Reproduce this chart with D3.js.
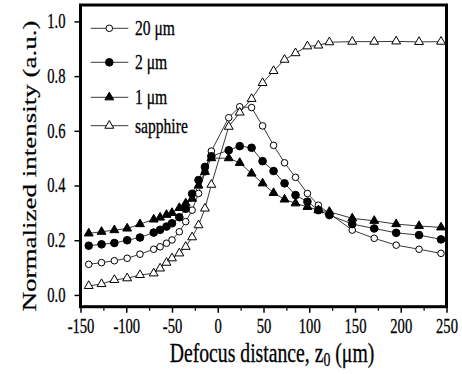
<!DOCTYPE html>
<html>
<head>
<meta charset="utf-8">
<script src="https://cdn.jsdelivr.net/npm/d3@7"></script>
<style>
  body { margin: 0; background: #fff; }
  svg text { font-family: "Liberation Serif", "Times New Roman", serif; fill: #000; stroke: #000; stroke-width: 0.3; }
</style>
</head>
<body>
<div id="chart"></div>
<script>
// DATA
const defocus = [-141, -127, -113, -99, -85, -70, -63, -56, -50, -42, -35, -28, -21, -14, -7,
                 12, 24, 37, 49, 61, 73, 85, 98, 110, 122, 147, 171, 195, 220, 244];

const um20 = [0.112, 0.118, 0.125, 0.134, 0.149, 0.167, 0.176, 0.189, 0.201, 0.231, 0.268, 0.310, 0.371, 0.450, 0.526,
              0.648, 0.688, 0.685, 0.618, 0.547, 0.483, 0.430, 0.371, 0.328, 0.298, 0.237, 0.207, 0.182, 0.167, 0.152];
const um2 = [0.180, 0.185, 0.190, 0.200, 0.210, 0.228, 0.238, 0.250, 0.262, 0.284, 0.315, 0.370, 0.420, 0.468, 0.507,
             0.529, 0.544, 0.538, 0.489, 0.453, 0.408, 0.365, 0.341, 0.310, 0.292, 0.259, 0.243, 0.227, 0.219, 0.203];
const um1 = [0.225, 0.231, 0.237, 0.243, 0.259, 0.276, 0.283, 0.293, 0.300, 0.318, 0.335, 0.352, 0.400, 0.450, 0.500,
             0.500, 0.483, 0.444, 0.408, 0.373, 0.349, 0.335, 0.322, 0.310, 0.304, 0.280, 0.271, 0.259, 0.252, 0.247];
const sapphire = [0.033, 0.040, 0.055, 0.061, 0.073, 0.079, 0.097, 0.118, 0.134, 0.152, 0.176, 0.211, 0.255, 0.316, 0.403,
                  0.615, 0.667, 0.717, 0.775, 0.819, 0.860, 0.884, 0.909, 0.912, 0.924, 0.926, 0.926, 0.927, 0.925, 0.926];

const seriesNames = ["20 \u03bcm", "2 \u03bcm", "1 \u03bcm", "sapphire"];
const xTicks = [-150, -100, -50, 0, 50, 100, 150, 200, 250];
const xMinorTicks = [-125, -75, -25, 25, 75, 125, 175, 225];
const yTicks = [0.0, 0.2, 0.4, 0.6, 0.8, 1.0];

// SETUP
const width = 462, height = 374;
const squeeze = 0.73;   // the original figure's text is narrowed horizontally

const svg = d3.select("#chart").append("svg")
    .attr("width", width)
    .attr("height", height);

const frame = {left: 80.5, right: 446.5, top: 5, bottom: 306.7};

const x = d3.scaleLinear().domain([-150, 250]).range([frame.left, frame.right]);
const y = d3.scaleLinear().domain([-0.043, 1.06]).range([frame.bottom, frame.top]);

// AXES
const xAxis = svg.append("g")
    .attr("transform", `translate(0,${frame.bottom})`)
    .call(d3.axisBottom(x).tickValues(xTicks).tickSize(6).tickPadding(6).tickFormat(d => String(d)));
xAxis.select(".domain").remove();
xAxis.selectAll("line").attr("stroke", "#000").attr("stroke-width", 1.5);
xAxis.selectAll("text")
    .attr("font-size", 20)
    .attr("font-family", "Liberation Serif, serif")
    .attr("transform", `scale(${squeeze},1)`);

const xMinor = svg.append("g")
    .attr("transform", `translate(0,${frame.bottom})`)
    .call(d3.axisBottom(x).tickValues(xMinorTicks).tickSize(4).tickFormat(""));
xMinor.select(".domain").remove();
xMinor.selectAll("line").attr("stroke", "#000").attr("stroke-width", 1.2);

const yAxis = svg.append("g")
    .attr("transform", `translate(${frame.left},0)`)
    .call(d3.axisLeft(y).tickValues(yTicks).tickSize(6).tickFormat(d3.format(".1f")));
yAxis.select(".domain").remove();
yAxis.selectAll("line").attr("stroke", "#000").attr("stroke-width", 1.5);
yAxis.selectAll("text")
    .attr("font-size", 20)
    .attr("font-family", "Liberation Serif, serif")
    .attr("x", 0)
    .attr("transform", `translate(-15,0) scale(${squeeze},1)`);

// frame
svg.append("rect")
    .attr("x", frame.left).attr("y", frame.top)
    .attr("width", frame.right - frame.left)
    .attr("height", frame.bottom - frame.top)
    .attr("fill", "none")
    .attr("stroke", "#000")
    .attr("stroke-width", 3);

// TITLES
const xTitle = svg.append("text")
    .attr("text-anchor", "middle")
    .attr("font-size", 27)
    .attr("transform", `translate(272,362) scale(${squeeze},1)`);
xTitle.append("tspan").text("Defocus distance, z");
xTitle.append("tspan").attr("font-size", 19).attr("dy", 4).text("0");
xTitle.append("tspan").attr("dy", -4).text(" (\u03bcm)");

svg.append("text")
    .attr("text-anchor", "middle")
    .attr("font-size", 27)
    .attr("transform", `translate(36,166) scale(${squeeze},1) rotate(-90)`)
    .text("Normalized intensity (a.u.)");

// SERIES
const symOpenCircle = d3.symbol().type(d3.symbolCircle).size(34);
const symCircle = d3.symbol().type(d3.symbolCircle).size(46);
const symTriangle = d3.symbol().type(d3.symbolTriangle).size(34);

const series = [
    {name: seriesNames[0], values: um20, symbol: symOpenCircle, fill: "#fff"},
    {name: seriesNames[1], values: um2, symbol: symCircle, fill: "#000"},
    {name: seriesNames[2], values: um1, symbol: symTriangle, fill: "#000"},
    {name: seriesNames[3], values: sapphire, symbol: symTriangle, fill: "#fff"}
];

const line = d3.line()
    .x((d, i) => x(defocus[i]))
    .y(d => y(d));

const plot = svg.append("g").attr("id", "plot");

series.forEach(s => {
    plot.append("path")
        .datum(s.values)
        .attr("fill", "none")
        .attr("stroke", "#222")
        .attr("stroke-width", 0.9)
        .attr("d", line);
});

series.forEach(s => {
    plot.selectAll(null)
        .data(s.values)
        .enter()
        .append("path")
        .attr("d", s.symbol)
        .attr("transform", (d, i) => `translate(${x(defocus[i])},${y(d)})`)
        .attr("fill", s.fill)
        .attr("stroke", "#000")
        .attr("stroke-width", 1);
});

// LEGEND
const legendY = [28.3, 62.3, 97.3, 125.7];
const legend = svg.append("g").attr("id", "legend");

series.forEach((s, i) => {
    const g = legend.append("g").attr("transform", `translate(0,${legendY[i]})`);
    g.append("line")
        .attr("x1", 90.7).attr("x2", 128.3)
        .attr("stroke", "#222").attr("stroke-width", 0.9);
    g.append("path")
        .attr("d", s.symbol)
        .attr("transform", "translate(109.3,0)")
        .attr("fill", s.fill)
        .attr("stroke", "#000")
        .attr("stroke-width", 1);
    g.append("text")
        .attr("font-size", 20)
        .attr("transform", `translate(135,7) scale(0.78,1)`)
        .text(s.name);
});
</script>
</body>
</html>
